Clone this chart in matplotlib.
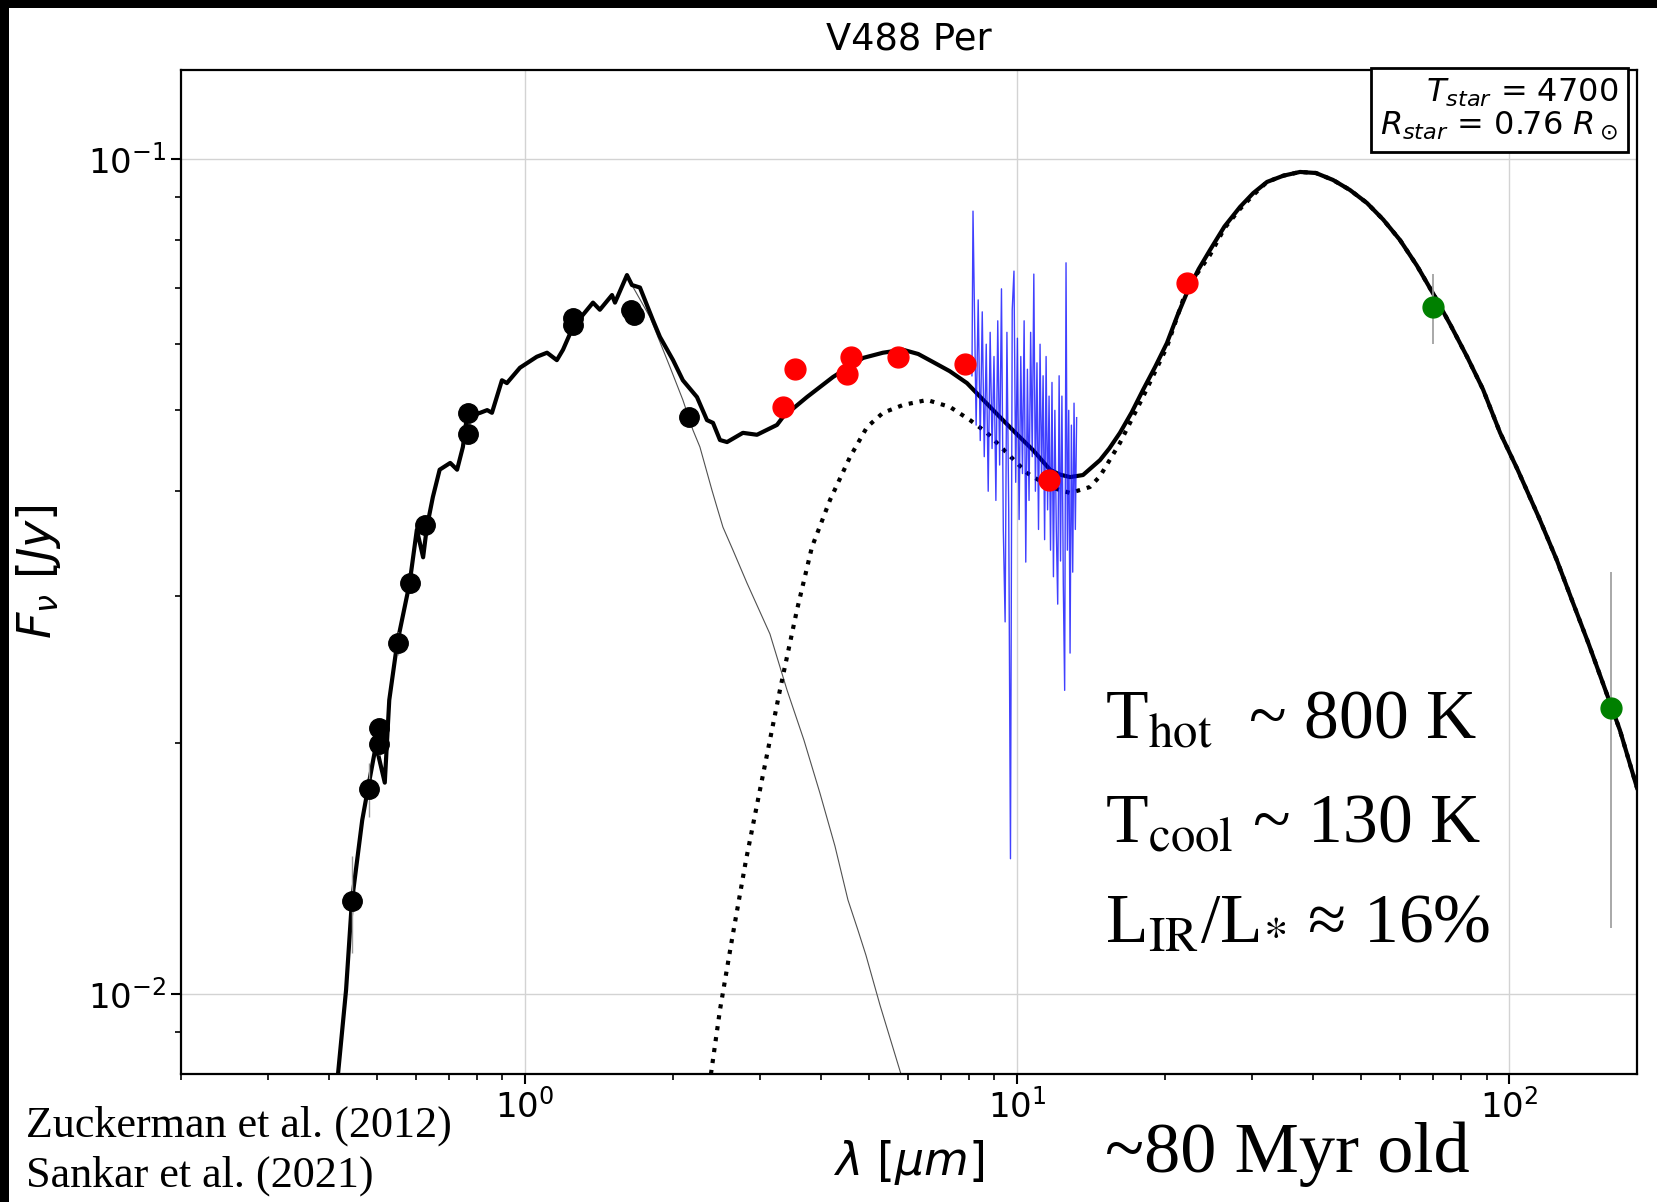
import matplotlib
matplotlib.use('Agg')
import matplotlib.pyplot as plt
from matplotlib.patches import Rectangle

# total model (photosphere + dust)
total_wl = [0.417, 0.433, 0.445, 0.467, 0.480, 0.498, 0.519, 0.530, 0.550, 0.583,
            0.603, 0.621, 0.632, 0.650, 0.671, 0.705, 0.728, 0.748, 0.762, 0.811,
            0.838, 0.857, 0.898, 0.919, 0.977, 1.057, 1.109, 1.161, 1.195, 1.252,
            1.375, 1.420, 1.503, 1.524, 1.612, 1.650, 1.713, 1.820, 1.881, 2.000,
            2.094, 2.237, 2.344, 2.411, 2.491, 2.575, 2.773, 2.962, 3.253, 3.345,
            3.742, 4.227, 4.866, 5.342, 5.866, 6.3, 6.745, 7.3, 7.913, 8.5,
            9.23, 10.0, 10.78, 11.67, 12.2, 12.82, 13.62, 14.75, 15.4, 16.19,
            17.1, 18.03, 19.1, 20.17, 21.2, 22.27, 23.4, 24.68, 26.4, 28.40,
            30.2, 32.22, 34.8, 37.60, 40.5, 43.87, 47.5, 51.42, 55.5, 60.02,
            65.0, 70.75, 76.0, 82.17, 88.5, 95.9, 104, 115, 125, 134.3,
            145, 155, 168, 182]
total_flux = [0.00802, 0.01011, 0.01291, 0.01615, 0.01766, 0.01986, 0.01791, 0.02249, 0.02630, 0.03105,
              0.03597, 0.03334, 0.03623, 0.03937, 0.04245, 0.04325, 0.04245, 0.04519, 0.04909, 0.04966,
              0.05003, 0.04966, 0.05432, 0.05390, 0.05623, 0.05796, 0.05861, 0.05742, 0.05909, 0.06292,
              0.06729, 0.06598, 0.06871, 0.06729, 0.07260, 0.07063, 0.07015, 0.06413, 0.06122, 0.05742,
              0.05432, 0.05186, 0.04867, 0.04830, 0.04607, 0.04581, 0.04699, 0.04674, 0.04803, 0.04909,
              0.05186, 0.05481, 0.05777, 0.05861, 0.05909, 0.0584, 0.05714, 0.0557, 0.05390, 0.0516,
              0.04909, 0.0468, 0.04481, 0.04245, 0.0419, 0.04159, 0.04183, 0.04359, 0.0450, 0.04699,
              0.0497, 0.05287, 0.0564, 0.06019, 0.0650, 0.06966, 0.0738, 0.07780, 0.0830, 0.08761,
              0.0910, 0.09386, 0.0955, 0.09648, 0.0962, 0.09438, 0.0918, 0.08858, 0.0846, 0.07998,
              0.0745, 0.06835, 0.0633, 0.05796, 0.0530, 0.0470, 0.0425, 0.0372, 0.0331, 0.0296,
              0.0263, 0.0236, 0.0207, 0.01766]

# stellar photosphere: same as total below ~1.6 um
phot_wl = total_wl[:35] + [1.658, 1.795, 1.971, 2.094, 2.195, 2.268, 2.399, 2.456, 2.526, 2.647,
                           2.827, 3.147, 3.409, 3.690, 3.977, 4.266, 4.534, 4.750, 4.932, 5.267, 5.810]
phot_flux = total_flux[:35] + [0.07026, 0.06467, 0.05636, 0.05145, 0.04735, 0.04519, 0.04013, 0.03829,
                               0.03623, 0.03401, 0.03105, 0.02699, 0.02312, 0.02014, 0.01740, 0.01504,
                               0.01296, 0.01193, 0.01113, 0.00970, 0.00802]

# dust (hot + cool blackbodies), merges with total beyond ~30 um
dust_wl = [2.388, 2.491, 2.634, 2.814, 3.032, 3.298, 3.572, 3.831, 4.169, 4.577,
           4.958, 5.342, 5.866, 6.565, 7.308, 8.027, 8.690, 9.543, 10.48, 11.67,
           12.82, 14.07, 14.75, 16.19, 18.03, 20.17, 21.75, 22.9, 24.68, 26.4,
           28.40, 30.2]
dust_flux = [0.00802, 0.00957, 0.01161, 0.01447, 0.01805, 0.02312, 0.02884, 0.03430, 0.03905, 0.04395,
             0.04775, 0.04966, 0.05074, 0.05145, 0.05047, 0.04867, 0.04699, 0.04444, 0.04207, 0.04047,
             0.03981, 0.04047, 0.04170, 0.04570, 0.05186, 0.05954, 0.06780, 0.0720, 0.07674, 0.0826,
             0.08713, 0.0905]
dust_wl += [w for w in total_wl if w > 32]
dust_flux += [f for w, f in zip(total_wl, total_flux) if w > 32]

# Spitzer IRS spectrum
irs_wl = [8.10, 8.14, 8.26, 8.34, 8.42, 8.50, 8.58, 8.66, 8.74, 8.82, 8.90, 8.98, 9.06,
          9.14, 9.22, 9.30, 9.38, 9.46, 9.54, 9.62, 9.70, 9.78, 9.86, 9.94, 10.02, 10.10,
          10.18, 10.26, 10.34, 10.42, 10.50, 10.58, 10.66, 10.74, 10.82, 10.90, 10.98, 11.06,
          11.14, 11.22, 11.30, 11.38, 11.46, 11.54, 11.62, 11.70, 11.78, 11.86, 11.94, 12.02,
          12.10, 12.18, 12.26, 12.34, 12.42, 12.50, 12.58, 12.66, 12.74, 12.82, 12.90, 12.98,
          13.06, 13.14, 13.22]
irs_flux = [0.055, 0.0866, 0.048, 0.0678, 0.046, 0.0656, 0.044, 0.060, 0.040, 0.062, 0.045, 0.058, 0.039,
            0.064, 0.043, 0.0699, 0.036, 0.0279, 0.062, 0.038, 0.01452, 0.066, 0.0734, 0.041, 0.061, 0.037,
            0.058, 0.042, 0.064, 0.0329, 0.056, 0.039, 0.062, 0.044, 0.0728, 0.040, 0.057, 0.036,
            0.060, 0.041, 0.055, 0.035, 0.058, 0.038, 0.052, 0.034, 0.054, 0.0316, 0.050, 0.036,
            0.0293, 0.055, 0.033, 0.052, 0.031, 0.0231, 0.0751, 0.034, 0.050, 0.0256, 0.048, 0.032,
            0.051, 0.036, 0.049]

# photometry
opt_wl = [0.445, 0.482, 0.505, 0.505, 0.552, 0.583, 0.626, 0.766, 0.766, 1.252, 1.252, 1.642, 1.665, 2.154]
opt_flux = [0.01291, 0.01760, 0.01993, 0.02083, 0.02630, 0.03105, 0.03644, 0.04966, 0.04686,
            0.06451, 0.06327, 0.06595, 0.06504, 0.04909]
opt_err = [0.0017, 0.0013, 0.0006, 0.0006, 0.0008, 0.0008, 0.0010, 0.0010, 0.0010,
           0.0010, 0.0010, 0.0010, 0.0010, 0.0010]
mir_wl = [3.353, 3.54, 4.51, 4.60, 5.73, 7.84, 11.6, 22.2]
mir_flux = [0.0505, 0.0560, 0.0553, 0.0579, 0.0579, 0.0568, 0.0413, 0.0710]
fir_wl = [70.0, 161.0]
fir_flux = [0.0664, 0.0220]
fir_err = [0.0064, 0.0100]

W, H = 1658, 1202
fig = plt.figure(figsize=(W / 100, H / 100), dpi=100, facecolor='black')
fig.patches.append(Rectangle((9 / W, 0), 1, 1 - 8 / H, transform=fig.transFigure,
                             facecolor='white', edgecolor='none', zorder=-10))
ax = fig.add_axes([181 / W, 1 - 1074 / H, (1637 - 181) / W, (1074 - 70) / H])
ax.set_xscale('log')
ax.set_yscale('log')
ax.set_xlim(0.2, 182)
ax.set_ylim(0.00802, 0.1278)
ax.grid(True, which='major', color='#d3d3d3', lw=1)
ax.set_axisbelow(True)

ax.plot(phot_wl, phot_flux, color='#505050', lw=0.8, zorder=2)
ax.plot(dust_wl, dust_flux, color='black', lw=3, ls=':', zorder=2)
ax.plot(total_wl, total_flux, color='black', lw=3, zorder=3)
ax.plot(irs_wl, irs_flux, color='blue', lw=1, alpha=0.75, zorder=4)

ax.errorbar(opt_wl, opt_flux, yerr=opt_err, fmt='none', ecolor='#999999', elinewidth=1, zorder=4)
ax.errorbar(fir_wl, fir_flux, yerr=fir_err, fmt='none', ecolor='#999999', elinewidth=1.2, zorder=4)
ax.plot(opt_wl, opt_flux, 'o', color='black', ms=14, zorder=5)
ax.plot(mir_wl, mir_flux, 'o', color='red', ms=15, zorder=5)
ax.plot(fir_wl, fir_flux, 'o', color='green', ms=15, zorder=5)

ax.set_title('V488 Per', fontsize=26.5, pad=14)
ax.set_xlabel(r'$\lambda$ [$\mu m$]', fontsize=33, labelpad=10)
ax.set_ylabel(r'$F_\nu$ [$Jy$]', fontsize=33, labelpad=18)
ax.tick_params(which='major', labelsize=24.5, length=7, width=1.5)
ax.tick_params(which='minor', length=4, width=1.2)
for s in ax.spines.values():
    s.set_linewidth(1.6)

fig.text(1618 / W, 1 - 77 / H, '$T_{star}$ = 4700\n$R_{star}$ = 0.76 $R_\\odot$',
         ha='right', va='top', fontsize=23, multialignment='right', linespacing=1.0,
         bbox=dict(boxstyle='square,pad=0.3', facecolor='white', edgecolor='black', lw=2))

serif = dict(family='Liberation Serif', math_fontfamily='stix', va='baseline', ha='left')
fig.text(1105 / W, 1 - 738 / H, r'T$_{\rm hot}$  ~ 800 K', fontsize=50, **serif)
fig.text(1105 / W, 1 - 842 / H, r'T$_{\rm cool}$ ~ 130 K', fontsize=50, **serif)
fig.text(1105 / W, 1 - 943 / H, r'L$_{\rm IR}$/L$_{\mathrm{*}}$ ≈ 16%', fontsize=50, **serif)
fig.text(1105 / W, 1 - 1172 / H, '~80 Myr old', fontsize=52, **serif)
fig.text(26 / W, 1 - 1137 / H, 'Zuckerman et al. (2012)', fontsize=31.8, **serif)
fig.text(26 / W, 1 - 1187 / H, 'Sankar et al. (2021)', fontsize=31.8, **serif)

plt.savefig('out.png', dpi=100, facecolor=fig.get_facecolor())
